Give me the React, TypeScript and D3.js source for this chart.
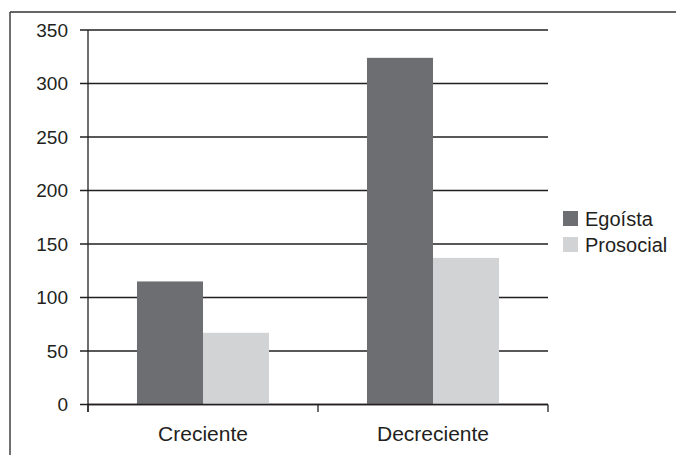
import React from "react";
import * as d3 from "d3";

const categories = ["Creciente", "Decreciente"];
const seriesNames = ["Egoísta", "Prosocial"];
const egoista = [115, 324];
const prosocial = [67, 137];
const yTicks = [0, 50, 100, 150, 200, 250, 300, 350];
const colors = ["#6d6e71", "#d1d3d4"];

export default function App() {
  const W = 676;
  const H = 455;
  const left = 88;
  const right = 548;
  const top = 30;
  const bottom = 404.5;
  const font = "'Liberation Sans', Arial, Helvetica, sans-serif";

  const y = d3.scaleLinear().domain([0, 350]).range([bottom, top]);
  const x0 = d3
    .scaleBand<string>()
    .domain(categories)
    .range([left, right])
    .paddingInner(0.426)
    .paddingOuter(0.213);
  const x1 = d3
    .scaleBand<string>()
    .domain(seriesNames)
    .range([0, x0.bandwidth()]);
  const values = [egoista, prosocial];
  const step = x0.step();

  return (
    <svg
      width={W}
      height={H}
      style={{ position: "absolute", left: 0, top: 0, background: "#fff" }}
    >
      <rect x={0} y={0} width={W} height={H} fill="#fff" />
      {/* outer frame */}
      <line x1={10} y1={12} x2={W} y2={12} stroke="#333" strokeWidth={1.4} />
      <line x1={10} y1={12} x2={10} y2={H} stroke="#333" strokeWidth={1.4} />

      {/* gridlines */}
      {yTicks.map((t) => (
        <g key={t}>
          <line
            x1={left - 8}
            x2={right}
            y1={y(t)}
            y2={y(t)}
            stroke="#231f20"
            strokeWidth={1.3}
          />
          <text
            x={68}
            y={y(t) + 6.8}
            textAnchor="end"
            fontFamily={font}
            fontSize={19}
            fill="#231f20"
          >
            {t}
          </text>
        </g>
      ))}

      {/* bars */}
      {categories.map((c, ci) => (
        <g key={c} transform={`translate(${x0(c)},0)`}>
          {seriesNames.map((s, si) => (
            <rect
              key={s}
              x={x1(s)}
              y={y(values[si][ci])}
              width={x1.bandwidth()}
              height={bottom - y(values[si][ci])}
              fill={colors[si]}
            />
          ))}
        </g>
      ))}

      {/* axes */}
      <line x1={left} x2={left} y1={top} y2={412} stroke="#231f20" strokeWidth={1.3} />
      <line x1={left} x2={right} y1={bottom} y2={bottom} stroke="#231f20" strokeWidth={1.3} />
      {[0, 1, 2].map((i) => (
        <line
          key={i}
          x1={left + i * step}
          x2={left + i * step}
          y1={bottom}
          y2={412}
          stroke="#231f20"
          strokeWidth={1.3}
        />
      ))}
      {categories.map((c) => (
        <text
          key={c}
          x={(x0(c) as number) + x0.bandwidth() / 2}
          y={440.5}
          textAnchor="middle"
          fontFamily={font}
          fontSize={21}
          fill="#231f20"
        >
          {c}
        </text>
      ))}

      {/* legend */}
      {seriesNames.map((s, i) => (
        <g key={s} transform={`translate(563,${211 + i * 26})`}>
          <rect x={0} y={0} width={15} height={15} fill={colors[i]} />
          <text
            x={22}
            y={15}
            fontFamily={font}
            fontSize={20}
            fill="#231f20"
          >
            {s}
          </text>
        </g>
      ))}
    </svg>
  );
}
